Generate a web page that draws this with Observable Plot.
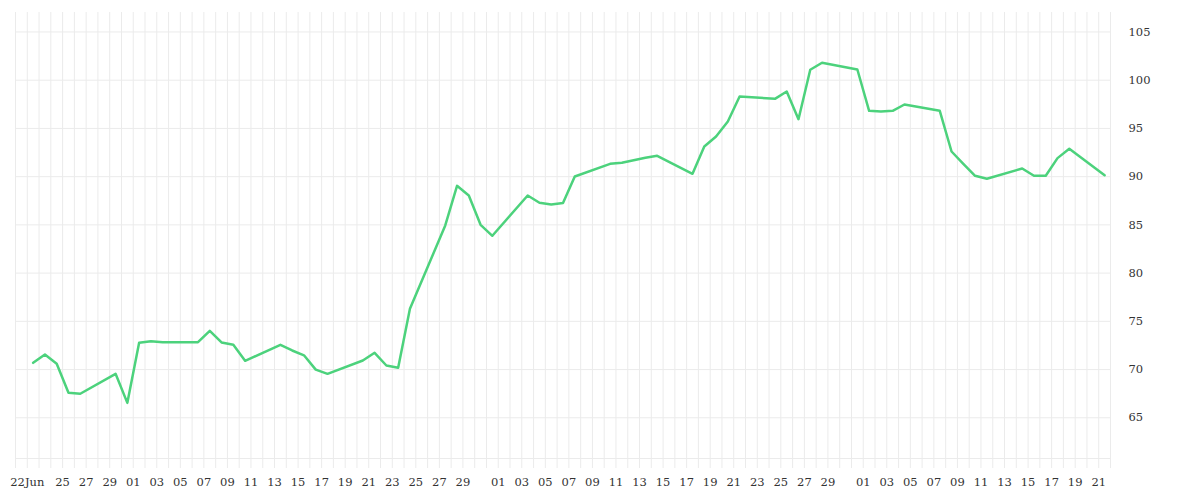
<!DOCTYPE html>
<html>
<head>
<meta charset="utf-8">
<script src="https://cdn.jsdelivr.net/npm/d3@7"></script>
<script src="https://cdn.jsdelivr.net/npm/@observablehq/plot@0.6"></script>
<style>
  html, body { margin: 0; padding: 0; background: #fff; }
  #chart { width: 1200px; height: 500px; }
</style>
</head>
<body>
<div id="chart"></div>
<script>
// Trading-day dates and closing values
const dates = [
  "2020-06-22","2020-06-23","2020-06-24","2020-06-25","2020-06-26",
  "2020-06-29","2020-06-30","2020-07-01","2020-07-02","2020-07-03",
  "2020-07-06","2020-07-07","2020-07-08","2020-07-09","2020-07-10",
  "2020-07-13","2020-07-14","2020-07-15","2020-07-16","2020-07-17",
  "2020-07-20","2020-07-21","2020-07-22","2020-07-23","2020-07-24",
  "2020-07-27","2020-07-28","2020-07-29","2020-07-30","2020-07-31",
  "2020-08-03","2020-08-04","2020-08-05","2020-08-06","2020-08-07",
  "2020-08-10","2020-08-11","2020-08-12","2020-08-13","2020-08-14",
  "2020-08-17","2020-08-18","2020-08-19","2020-08-20","2020-08-21",
  "2020-08-24","2020-08-25","2020-08-26","2020-08-27","2020-08-28",
  "2020-08-31","2020-09-01","2020-09-02","2020-09-03","2020-09-04",
  "2020-09-07","2020-09-08","2020-09-09","2020-09-10","2020-09-11",
  "2020-09-14","2020-09-15","2020-09-16","2020-09-17","2020-09-18",
  "2020-09-21"
];
const values = [
  70.70, 71.56, 70.60, 67.59, 67.49,
  69.56, 66.55, 72.78, 72.94, 72.84,
  72.84, 74.02, 72.81, 72.57, 70.91,
  72.57, 71.98, 71.48, 69.99, 69.56,
  70.94, 71.74, 70.42, 70.18, 76.30,
  84.94, 89.05, 88.05, 85.01, 83.87,
  88.05, 87.29, 87.12, 87.27, 90.02,
  91.33, 91.44, 91.71, 91.96, 92.16,
  90.30, 93.13, 94.17, 95.72, 98.31,
  98.07, 98.83, 95.96, 101.08, 101.81,
  101.11, 96.83, 96.76, 96.83, 97.48,
  96.83, 92.61, 91.33, 90.09, 89.78,
  90.85, 90.09, 90.09, 91.92, 92.89,
  90.15
];
const yTicks = [65, 70, 75, 80, 85, 90, 95, 100, 105];
const yDomain = [60.78, 107.02];
const xStart = "2020-06-21";
const xEnd = "2020-09-22";
const firstTickLabel = "22Jun";

const x0 = new Date(xStart + "T00:00:00Z");
const x1 = new Date(xEnd + "T00:00:00Z");
const data = dates.map((d, i) => ({date: new Date(d + "T12:00:00Z"), value: values[i]}));
const gridDays = d3.utcDay.range(x0, d3.utcDay.offset(x1, 1));
const firstTick = new Date("2020-06-22T00:00:00Z");
const xTicks = [firstTick].concat(
  d3.utcDay.every(2).range(d3.utcDay.offset(firstTick, 2), x1)
    .filter(d => d.getUTCDate() !== 31)
);
const fmtDay = d3.utcFormat("%d");

const chart = Plot.plot({
  width: 1200,
  height: 500,
  marginLeft: 15,
  marginRight: 90,
  marginTop: 12,
  marginBottom: 42,
  style: {fontFamily: "'DejaVu Serif', serif", fontSize: "11.5px", color: "#333", background: "#fff"},
  x: {type: "utc", domain: [x0, x1], label: null},
  y: {domain: yDomain, label: null},
  marks: [
    Plot.ruleX(gridDays, {stroke: "#ebebeb", strokeWidth: 1, insetBottom: -10}),
    Plot.ruleY(yTicks, {stroke: "#ebebeb", strokeWidth: 1}),
    Plot.ruleY([yDomain[0]], {stroke: "#ebebeb", strokeWidth: 1}),
    Plot.axisX(xTicks, {
      anchor: "bottom", tickSize: 0, tickPadding: 19,
      tickFormat: (d, i) => i === 0 ? firstTickLabel : fmtDay(d),
      fill: "#333"
    }),
    Plot.axisY(yTicks, {anchor: "right", tickSize: 0, tickPadding: 18, fill: "#333"}),
    Plot.lineY(data, {x: "date", y: "value", stroke: "#4cd27c", strokeWidth: 2.5})
  ]
});
document.getElementById("chart").appendChild(chart);
</script>
</body>
</html>
